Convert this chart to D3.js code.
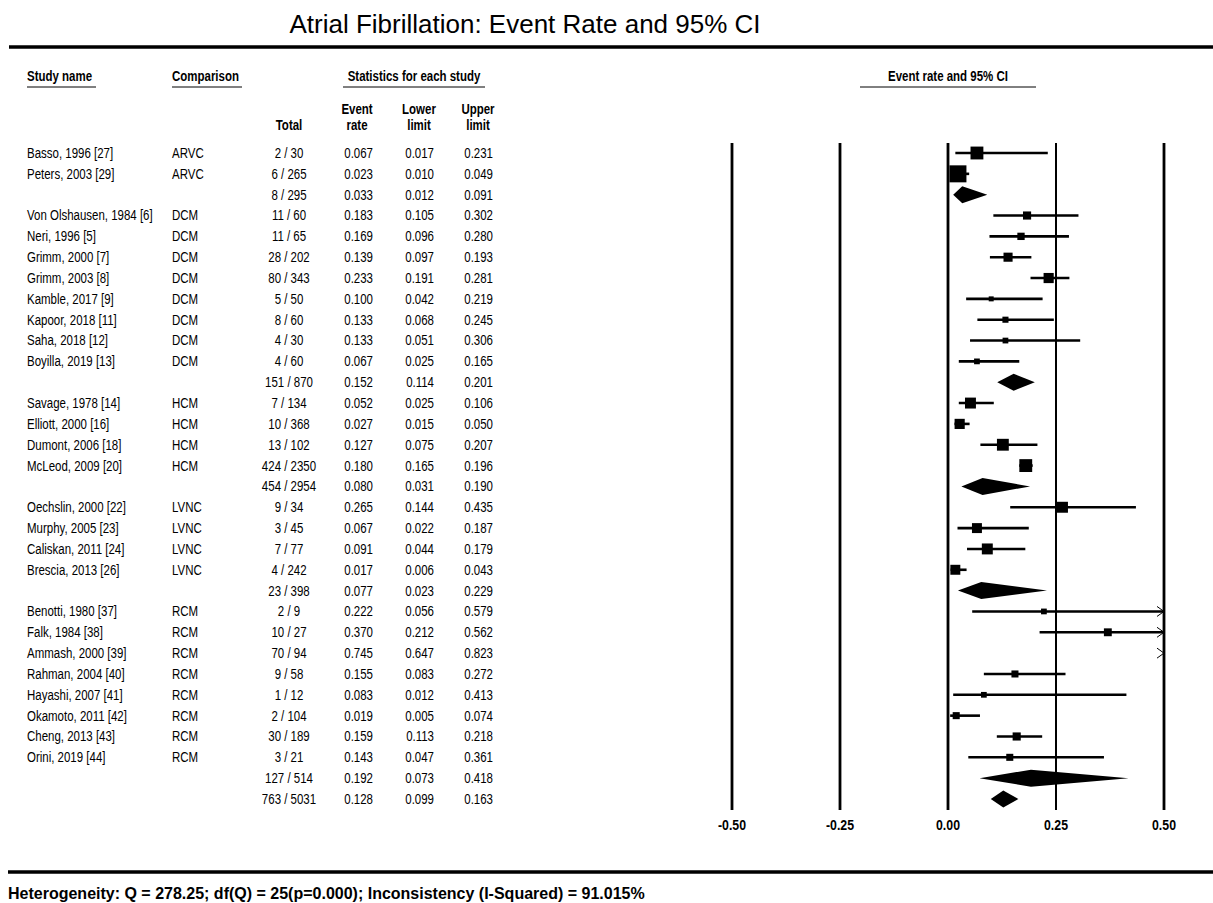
<!DOCTYPE html>
<html>
<head>
<meta charset="utf-8">
<script src="https://cdn.jsdelivr.net/npm/d3@7"></script>
<style>
  html, body { margin: 0; padding: 0; background: #fff; }
  svg { display: block; }
  text { font-family: "Liberation Sans", Arial, sans-serif; fill: #000; }
</style>
</head>
<body>
<svg id="chart" width="1213" height="903"></svg>
<script>
// ---------------- DATA ----------------
const studyNames = [
  "Basso, 1996 [27]", "Peters, 2003 [29]", "",
  "Von Olshausen, 1984 [6]", "Neri, 1996 [5]", "Grimm, 2000 [7]", "Grimm, 2003 [8]",
  "Kamble, 2017 [9]", "Kapoor, 2018 [11]", "Saha, 2018 [12]", "Boyilla, 2019 [13]", "",
  "Savage, 1978 [14]", "Elliott, 2000 [16]", "Dumont, 2006 [18]", "McLeod, 2009 [20]", "",
  "Oechslin, 2000 [22]", "Murphy, 2005 [23]", "Caliskan, 2011 [24]", "Brescia, 2013 [26]", "",
  "Benotti, 1980 [37]", "Falk, 1984 [38]", "Ammash, 2000 [39]", "Rahman, 2004 [40]",
  "Hayashi, 2007 [41]", "Okamoto, 2011 [42]", "Cheng, 2013 [43]", "Orini, 2019 [44]", "", ""
];
const comparisons = [
  "ARVC", "ARVC", "",
  "DCM", "DCM", "DCM", "DCM", "DCM", "DCM", "DCM", "DCM", "",
  "HCM", "HCM", "HCM", "HCM", "",
  "LVNC", "LVNC", "LVNC", "LVNC", "",
  "RCM", "RCM", "RCM", "RCM", "RCM", "RCM", "RCM", "RCM", "", ""
];
const totals = [
  "2 / 30", "6 / 265", "8 / 295",
  "11 / 60", "11 / 65", "28 / 202", "80 / 343", "5 / 50", "8 / 60", "4 / 30", "4 / 60", "151 / 870",
  "7 / 134", "10 / 368", "13 / 102", "424 / 2350", "454 / 2954",
  "9 / 34", "3 / 45", "7 / 77", "4 / 242", "23 / 398",
  "2 / 9", "10 / 27", "70 / 94", "9 / 58", "1 / 12", "2 / 104", "30 / 189", "3 / 21", "127 / 514",
  "763 / 5031"
];
const eventRates = [
  0.067, 0.023, 0.033,
  0.183, 0.169, 0.139, 0.233, 0.100, 0.133, 0.133, 0.067, 0.152,
  0.052, 0.027, 0.127, 0.180, 0.080,
  0.265, 0.067, 0.091, 0.017, 0.077,
  0.222, 0.370, 0.745, 0.155, 0.083, 0.019, 0.159, 0.143, 0.192,
  0.128
];
const lowerLimits = [
  0.017, 0.010, 0.012,
  0.105, 0.096, 0.097, 0.191, 0.042, 0.068, 0.051, 0.025, 0.114,
  0.025, 0.015, 0.075, 0.165, 0.031,
  0.144, 0.022, 0.044, 0.006, 0.023,
  0.056, 0.212, 0.647, 0.083, 0.012, 0.005, 0.113, 0.047, 0.073,
  0.099
];
const upperLimits = [
  0.231, 0.049, 0.091,
  0.302, 0.280, 0.193, 0.281, 0.219, 0.245, 0.306, 0.165, 0.201,
  0.106, 0.050, 0.207, 0.196, 0.190,
  0.435, 0.187, 0.179, 0.043, 0.229,
  0.579, 0.562, 0.823, 0.272, 0.413, 0.074, 0.218, 0.361, 0.418,
  0.163
];
// true = pooled (subgroup / overall) row drawn as a diamond
const isSummary = [
  false, false, true,
  false, false, false, false, false, false, false, false, true,
  false, false, false, false, true,
  false, false, false, false, true,
  false, false, false, false, false, false, false, false, true,
  true
];
// relative study weights; 0 for pooled rows
const relWeights = [
  4.0, 7.0, 0,
  1.6, 1.3, 2.0, 2.5, 0.6, 0.9, 0.8, 0.8, 0,
  2.9, 2.5, 3.4, 4.0, 0,
  2.9, 2.4, 2.9, 2.4, 0,
  0.8, 1.5, 1.7, 1.2, 0.8, 1.2, 1.6, 1.2, 0,
  0
];
const axisTicks = [-0.50, -0.25, 0.00, 0.25, 0.50];
const titleText = "Atrial Fibrillation: Event Rate and 95% CI";
const footerText = "Heterogeneity: Q = 278.25; df(Q) = 25(p=0.000); Inconsistency (I-Squared) = 91.015%";

// ---------------- LAYOUT ----------------
const svg = d3.select("#chart");
const n = eventRates.length;
const y = d3.scaleLinear().domain([0, n - 1]).range([153, 799]);
const x = d3.scaleLinear().domain([-0.5, 0.5]).range([732, 1164]);
const size = d3.scaleSqrt().domain([0, d3.max(relWeights)]).range([0, 17]);
const fmt = d3.format(".3f");
const tickFmt = d => d3.format(".2f")(d).replace("\u2212", "-");

const col = { name: 27, comp: 172, total: 289, rate: 373, lower: 434, upper: 493 };
const FS = 14, SX = 0.82;   // condensed look of the reference text

// condensed text helper
function ctext(parent, txt, xPos, yPos, anchor, opts = {}) {
  return parent.append("text")
    .attr("transform", `translate(${xPos},${yPos}) scale(${opts.sx || SX},1)`)
    .attr("text-anchor", anchor)
    .attr("dominant-baseline", "central")
    .attr("font-size", opts.fs || FS)
    .attr("font-weight", opts.bold ? "bold" : "normal")
    .text(txt);
}

// title
svg.append("text").attr("x", 525).attr("y", 33)
  .attr("text-anchor", "middle").attr("font-size", 26).text(titleText);

// thick rules
svg.append("line").attr("x1", 9).attr("x2", 1213).attr("y1", 47).attr("y2", 47)
  .attr("stroke", "#000").attr("stroke-width", 3.5);
svg.append("line").attr("x1", 8).attr("x2", 1213).attr("y1", 872).attr("y2", 872)
  .attr("stroke", "#000").attr("stroke-width", 3.5);

// headers
function underline(x1, x2, yPos) {
  svg.append("line").attr("x1", x1).attr("x2", x2).attr("y1", yPos).attr("y2", yPos)
    .attr("stroke", "#000").attr("stroke-width", 1);
}
const B = { bold: true };
ctext(svg, "Study name", col.name, 76, "start", B);  underline(col.name, 96, 87);
ctext(svg, "Comparison", col.comp, 76, "start", B);  underline(col.comp, 242, 87);
ctext(svg, "Statistics for each study", 414, 76, "middle", B); underline(343, 485, 87);
ctext(svg, "Event rate and 95% CI", 948, 76, "middle", B); underline(860, 1036, 87);
ctext(svg, "Total", col.total, 125, "middle", B);
ctext(svg, "Event", 357, 109, "middle", B); ctext(svg, "rate", 357, 125, "middle", B);
ctext(svg, "Lower", 419, 109, "middle", B); ctext(svg, "limit", 419, 125, "middle", B);
ctext(svg, "Upper", 478, 109, "middle", B); ctext(svg, "limit", 478, 125, "middle", B);

// table rows
const rows = svg.append("g").selectAll("g").data(d3.range(n)).join("g")
  .attr("transform", i => `translate(0,${y(i)})`);
rows.each(function (i) {
  const g = d3.select(this);
  ctext(g, studyNames[i], col.name, 0, "start");
  ctext(g, comparisons[i], col.comp, 0, "start");
  ctext(g, totals[i], col.total, 0, "middle");
  ctext(g, fmt(eventRates[i]), col.rate, 0, "end");
  ctext(g, fmt(lowerLimits[i]), col.lower, 0, "end");
  ctext(g, fmt(upperLimits[i]), col.upper, 0, "end");
});

// forest: reference lines
const gridTop = 143, gridBottom = 810;
svg.append("g").selectAll("line").data(axisTicks).join("line")
  .attr("x1", d => x(d)).attr("x2", d => x(d))
  .attr("y1", gridTop).attr("y2", gridBottom)
  .attr("stroke", "#000").attr("stroke-width", d => d === 0.25 ? 2 : 2.8);

// axis labels
const axisG = svg.append("g");
axisTicks.forEach(d => ctext(axisG, tickFmt(d), x(d), 825, "middle", { bold: true, fs: 14, sx: 0.88 }));

// forest: study CIs and squares
const [dMin, dMax] = x.domain();
const studyIdx = d3.range(n).filter(i => !isSummary[i]);
const sumIdx = d3.range(n).filter(i => isSummary[i]);
const forest = svg.append("g");

forest.selectAll("line.ci").data(studyIdx.filter(i => lowerLimits[i] < dMax)).join("line")
  .attr("class", "ci")
  .attr("x1", i => x(Math.max(lowerLimits[i], dMin)))
  .attr("x2", i => x(Math.min(upperLimits[i], dMax)))
  .attr("y1", i => y(i)).attr("y2", i => y(i))
  .attr("stroke", "#000").attr("stroke-width", 2.6);

forest.selectAll("rect.pt").data(studyIdx.filter(i => eventRates[i] <= dMax)).join("rect")
  .attr("class", "pt")
  .attr("x", i => x(eventRates[i]) - size(relWeights[i]) / 2)
  .attr("y", i => y(i) - size(relWeights[i]) / 2)
  .attr("width", i => size(relWeights[i]))
  .attr("height", i => size(relWeights[i]))
  .attr("fill", "#000");

// arrows where the interval runs past the axis
forest.selectAll("path.arrow").data(studyIdx.filter(i => upperLimits[i] > dMax)).join("path")
  .attr("class", "arrow")
  .attr("d", i => {
    const xe = x(dMax), yc = y(i);
    return `M${xe - 7},${yc - 5}L${xe},${yc}L${xe - 7},${yc + 5}`;
  })
  .attr("fill", "none").attr("stroke", "#000").attr("stroke-width", 1);

// summary diamonds
forest.selectAll("path.dia").data(sumIdx).join("path")
  .attr("class", "dia")
  .attr("d", i => {
    const yc = y(i), h = 8.5;
    return `M${x(lowerLimits[i])},${yc}L${x(eventRates[i])},${yc - h}L${x(upperLimits[i])},${yc}L${x(eventRates[i])},${yc + h}Z`;
  })
  .attr("fill", "#000");

// footer
svg.append("text").attr("x", 8).attr("y", 893)
  .attr("dominant-baseline", "central")
  .attr("font-size", 16).attr("font-weight", "bold").text(footerText);
</script>
</body>
</html>
